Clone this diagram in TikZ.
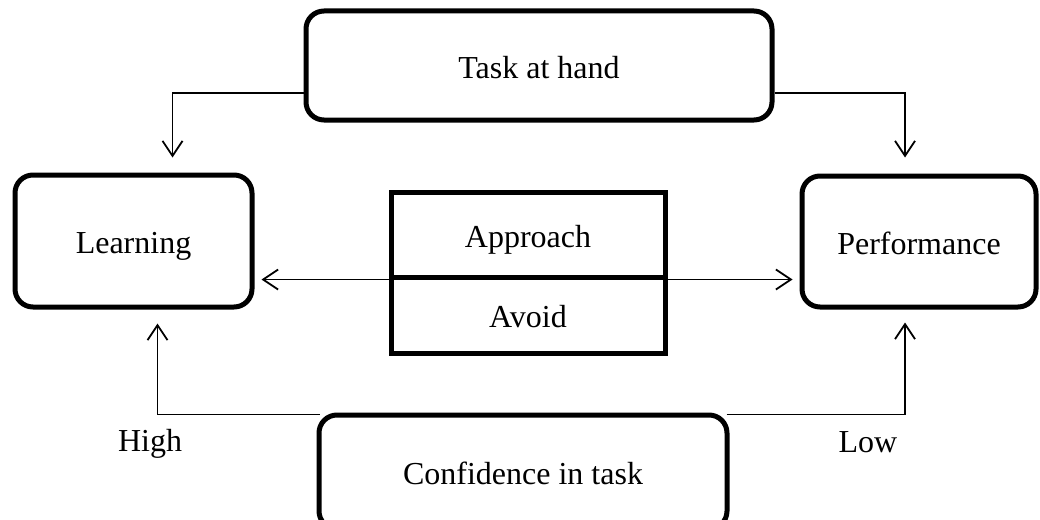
\documentclass[tikz,border=0pt]{standalone}
\usepackage{fontspec}
\setmainfont{Liberation Serif}
\usetikzlibrary{arrows.meta}
\tikzset{
  txt/.style={font=\fontsize{32}{38}\selectfont, text height=25pt, text depth=0pt},
  rbox/.style={draw, line width=5pt, rounded corners=18pt, inner sep=0pt, txt},
  sbox/.style={draw, line width=5pt, inner sep=0pt, minimum width=274pt, txt},
  arr/.style={line width=1.8pt, -{Straight Barb[length=15pt,width=20pt,line width=1.8pt]}},
  lbl/.style={inner sep=0pt, txt}
}
\begin{document}
\begin{tikzpicture}[x=1pt,y=-1pt]
\useasboundingbox (0,0) rectangle (1040,519);
\clip (0,0) rectangle (1040,519);
\fill[white] (0,0) rectangle (1040,519);

% boxes
\node[rbox, minimum width=466pt, minimum height=109pt] (task) at (539,65.5) {Task at hand};
\node[rbox, minimum width=237pt, minimum height=132pt] (learn) at (133.5,241) {Learning};
\node[rbox, minimum width=234pt, minimum height=131pt] (perf) at (919,241.5) {Performance};
\node[sbox, minimum height=85pt] (appr) at (528,234.5) {Approach};
\node[sbox, minimum height=76pt] (avoid) at (528,315) {Avoid};
\node[rbox, minimum width=408pt, minimum height=114pt] (conf) at (523,472) {Confidence in task};

% connectors from the task
\draw[arr, shorten >=1pt] ([yshift=-27.5pt]task.west) -| ([xshift=39pt,yshift=14pt]learn.north);
\draw[arr, shorten >=1pt] ([yshift=-27.5pt]task.east) -| ([xshift=-14pt,yshift=15pt]perf.north);

% goal orientation to either side
\draw[arr] (appr.south west) -- ([xshift=7pt]appr.south west -| learn.east);
\draw[arr] (appr.south east) -- ([xshift=-7pt]appr.south east -| perf.west);

% confidence levels
\draw[arr] ([xshift=3pt,yshift=-2pt]conf.north west) -| ([xshift=24pt,yshift=-14pt]learn.south);
\draw[arr] ([xshift=-3pt,yshift=-2pt]conf.north east) -| ([xshift=-14pt,yshift=-13pt]perf.south);

\node[lbl] (high) at (150,439) {High};
\node[lbl] (low) at (868,440) {Low};
\end{tikzpicture}
\end{document}
